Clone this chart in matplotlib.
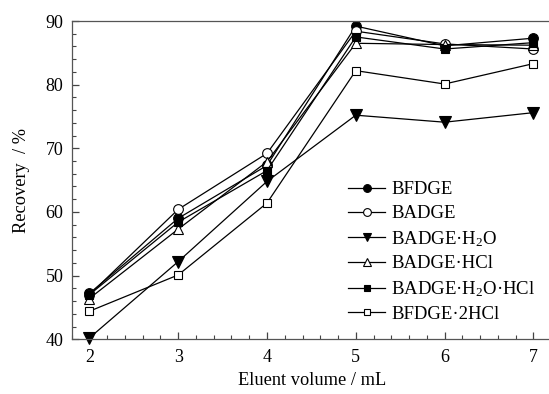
import matplotlib
matplotlib.use('Agg')
import matplotlib.pyplot as plt
from matplotlib.ticker import MultipleLocator

plt.rcParams['font.family'] = ['Liberation Serif', 'DejaVu Serif']
plt.rcParams['mathtext.fontset'] = 'custom'
plt.rcParams['mathtext.rm'] = 'Liberation Serif'
plt.rcParams['mathtext.it'] = 'Liberation Serif'

volume = [2, 3, 4, 5, 6, 7]

bfdge = [47.2, 59.0, 67.3, 89.2, 86.1, 87.3]
badge = [47.0, 60.4, 69.2, 88.4, 86.4, 85.6]
badge_h2o = [40.2, 52.2, 64.8, 75.2, 74.1, 75.6]
badge_hcl = [46.4, 57.3, 67.9, 86.5, 86.3, 86.2]
badge_h2o_hcl = [47.0, 58.4, 66.5, 87.5, 85.6, 86.6]
bfdge_2hcl = [44.4, 50.1, 61.4, 82.2, 80.1, 83.3]

labels = ['BFDGE', 'BADGE', 'BADGE·H$_2$O', 'BADGE·HCl',
          'BADGE·H$_2$O·HCl', 'BFDGE·2HCl']

fig = plt.figure(figsize=(5.49, 3.94), dpi=100)
ax = fig.add_axes([0.1305, 0.139, 0.875, 0.8077])

series = [bfdge, badge, badge_h2o, badge_hcl, badge_h2o_hcl, bfdge_2hcl]
markers = ['o', 'o', 'v', '^', 's', 's']
faces = ['black', 'white', 'black', 'white', 'black', 'white']
sizes = [7, 7, 8, 7, 6, 6]

for y, m, fc, ms, lab in zip(series, markers, faces, sizes, labels):
    ax.plot(volume, y, color='black', linewidth=0.9, marker=m,
            markersize=ms, markerfacecolor=fc, markeredgecolor='black',
            markeredgewidth=0.8, label=lab, clip_on=False)

ax.set_xlim(1.8, 7.21)
ax.set_ylim(40, 90)
ax.xaxis.set_major_locator(MultipleLocator(1))
ax.xaxis.set_minor_locator(MultipleLocator(0.2))
ax.yaxis.set_major_locator(MultipleLocator(10))
ax.yaxis.set_minor_locator(MultipleLocator(2))
ax.tick_params(which='both', direction='in', top=False, right=False,
               labelsize=13, color='#444444')
ax.tick_params(which='major', length=5, width=0.9)
ax.tick_params(which='minor', length=3, width=0.8)
ax.tick_params(axis='x', pad=7)
ax.tick_params(axis='y', pad=6)
for s in ax.spines.values():
    s.set_linewidth(0.9)
    s.set_color('#555555')

ax.set_xlabel('Eluent volume / mL', fontsize=13.2, labelpad=4)
ax.set_ylabel('Recovery  / %', fontsize=13.2, labelpad=11)

ax.legend(loc='upper left', bbox_to_anchor=(0.575, 0.497), frameon=False,
          fontsize=13.5, handlelength=2.0, handletextpad=0.3,
          labelspacing=0.36, borderpad=0, borderaxespad=0, markerscale=0.8)

fig.savefig('out.png', dpi=100)
